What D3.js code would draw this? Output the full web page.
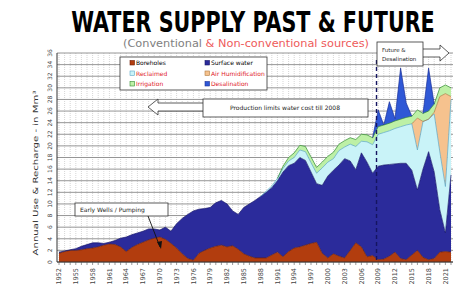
<!DOCTYPE html>
<html>
<head>
<meta charset="utf-8">
<script src="https://cdn.jsdelivr.net/npm/d3@7"></script>
<style>
  body { margin: 0; background: #fff; }
  svg { display: block; font-family: "DejaVu Sans", sans-serif; }
</style>
</head>
<body>
<svg id="chart" width="461" height="295"></svg>
<script>
// years on the x axis, one value per year
var years = d3.range(1952, 2023);
var tickYears = d3.range(1952, 2023, 3);
var yTicks = d3.range(0, 37, 2);

// stacked series (bottom to top)
var boreholes = [1.5, 1.8, 2.0, 2.0, 2.1, 2.3, 2.4, 2.6, 2.9, 3.1,
  3.0, 2.6, 1.8, 2.5, 3.0, 3.4, 3.8, 4.1, 4.3, 3.9,
  3.2, 2.4, 1.4, 0.6, 0.3, 1.5, 2.0, 2.4, 2.7, 2.9,
  2.6, 2.8, 2.2, 1.4, 1.0, 0.7, 0.7, 0.7, 1.2, 1.7,
  0.9, 1.8, 2.4, 2.6, 2.9, 3.2, 3.4, 1.5, 0.7, 1.4,
  1.0, 0.7, 2.0, 3.3, 2.6, 0.9, 1.1, 0.4, 0.5, 1.0,
  1.7, 0.6, 0.4, 1.2, 2.0, 0.8, 0.4, 0.6, 1.7, 1.8, 1.7];
var surfaceWater = [0.2, 0.1, 0.1, 0.3, 0.6, 0.7, 0.9, 0.7, 0.3, 0.3,
  0.7, 1.5, 2.5, 2.2, 2.0, 1.9, 1.9, 1.6, 1.2, 2.1,
  2.1, 4.2, 6.1, 7.6, 8.5, 7.6, 7.2, 7.0, 7.5, 7.7,
  7.4, 6.0, 6.0, 8.0, 9.0, 9.9, 10.6, 11.3, 11.6, 12.3,
  14.6, 14.8, 14.6, 15.4, 14.6, 12.3, 10.1, 11.7, 14.1, 14.4,
  15.7, 17.1, 15.4, 12.6, 16.2, 16.3, 14.2, 16.1, 16.2, 15.8,
  15.2, 16.4, 16.6, 14.6, 10.4, 15.2, 18.6, 14.9, 7.3, 3.2, 13.3];
var reclaimed = [0, 0, 0, 0, 0, 0, 0, 0, 0, 0,
  0, 0, 0, 0, 0, 0, 0, 0, 0, 0,
  0, 0, 0, 0, 0, 0, 0, 0, 0, 0,
  0, 0, 0, 0, 0, 0, 0, 0.2, 0.3, 0.4,
  0.6, 0.8, 1.0, 1.3, 1.5, 1.6, 1.8, 3.0, 2.4, 2.0,
  2.5, 2.0, 2.9, 4.0, 2.0, 3.5, 4.9, 5.5, 5.6, 5.8,
  6.1, 6.3, 6.6, 8.0, 6.9, 8.2, 5.6, 10.0, 10.0, 8.0, 13.0];
var airHumid = [0, 0, 0, 0, 0, 0, 0, 0, 0, 0,
  0, 0, 0, 0, 0, 0, 0, 0, 0, 0,
  0, 0, 0, 0, 0, 0, 0, 0, 0, 0,
  0, 0, 0, 0, 0, 0, 0, 0, 0, 0,
  0, 0, 0, 0, 0, 0, 0, 0, 0, 0,
  0, 0, 0, 0, 0, 0, 0, 0, 0, 0,
  0, 0, 0, 0, 5.5, 0, 0, 0.3, 9.5, 16.0, 0.5];
var irrigation = [0, 0, 0, 0, 0, 0, 0, 0, 0, 0,
  0, 0, 0, 0, 0, 0, 0, 0, 0, 0,
  0, 0, 0, 0, 0, 0, 0, 0, 0, 0,
  0, 0, 0, 0, 0, 0, 0, 0, 0, 0,
  0.4, 0.6, 0.8, 0.8, 0.9, 1.0, 1.0, 1.0, 1.0, 1.1,
  1.1, 1.1, 1.1, 1.2, 1.2, 1.2, 1.2, 1.3, 1.3, 1.3,
  1.3, 1.3, 1.3, 1.3, 1.4, 1.4, 1.4, 1.4, 1.5, 1.5, 1.5];
var desalination = [0, 0, 0, 0, 0, 0, 0, 0, 0, 0,
  0, 0, 0, 0, 0, 0, 0, 0, 0, 0,
  0, 0, 0, 0, 0, 0, 0, 0, 0, 0,
  0, 0, 0, 0, 0, 0, 0, 0, 0, 0,
  0, 0, 0, 0, 0, 0, 0, 0, 0, 0,
  0, 0, 0, 0, 0, 0, 0, 2.9, 0, 3.7,
  0.4, 8.8, 2.5, 0, 0, 0, 7.4, 0, 0, 0, 0];

var seriesNames = ['Boreholes', 'Surface water', 'Reclaimed', 'Air Humidification', 'Irrigation', 'Desalination'];
var seriesValues = [boreholes, surfaceWater, reclaimed, airHumid, irrigation, desalination];
var fills = ['#b23d0e', '#2b2b9b', '#c9f3f8', '#f6c28e', '#bdf0a6', '#2f58d6'];
var edges = ['#6e1d04', '#16166a', '#5aa7c8', '#b07a40', '#2f8a2f', '#1a2f9a'];
var legendText = ['#000', '#000', '#e0202a', '#e0202a', '#e0202a', '#e0202a'];
var dividerYear = 2008.7;

var svg = d3.select('#chart');
var x = d3.scaleLinear().domain([1952, 2022]).range([59, 451]);
var y = d3.scaleLinear().domain([0, 36]).range([262, 53]);

// title (condensed face, stretched a little vertically)
svg.append('text')
  .attr('transform', 'translate(253,32) scale(1,1.22)')
  .attr('text-anchor', 'middle')
  .attr('font-family', '"DejaVu Sans Condensed", "DejaVu Sans", sans-serif')
  .attr('font-size', 23).attr('font-weight', 'bold')
  .text('WATER SUPPLY PAST & FUTURE');

var sub = svg.append('text')
  .attr('x', 246).attr('y', 47)
  .attr('text-anchor', 'middle')
  .attr('font-size', 10)
  .attr('textLength', 246).attr('lengthAdjust', 'spacingAndGlyphs');
sub.append('tspan').attr('fill', '#808080').text('(Conventional ');
sub.append('tspan').attr('fill', '#ee5a5a').text('& Non-conventional sources)');

// grid
var g = svg.append('g');
g.append('rect')
  .attr('x', 57).attr('y', y(36))
  .attr('width', 396).attr('height', y(0) - y(36))
  .attr('fill', '#fff');

g.selectAll('.vgrid').data(years).enter().append('line')
  .attr('x1', function (d) { return x(d); })
  .attr('x2', function (d) { return x(d); })
  .attr('y1', y(36)).attr('y2', y(0))
  .attr('stroke', '#bbb').attr('stroke-width', 0.6)
  .attr('stroke-dasharray', '1,1');

g.selectAll('.hgrid').data(yTicks).enter().append('line')
  .attr('x1', 57).attr('x2', 453)
  .attr('y1', function (d) { return y(d); })
  .attr('y2', function (d) { return y(d); })
  .attr('stroke', '#8a8a8a').attr('stroke-width', 0.9);

// stacked areas
var rows = years.map(function (yr, i) {
  var r = { year: yr };
  seriesNames.forEach(function (n, k) { r[n] = seriesValues[k][i]; });
  return r;
});
var stack = d3.stack().keys(seriesNames)(rows);

var area = d3.area()
  .x(function (d) { return x(d.data.year); })
  .y0(function (d) { return y(d[0]); })
  .y1(function (d) { return y(d[1]); });

g.selectAll('.layer').data(stack).enter().append('path')
  .attr('d', area)
  .attr('fill', function (d, i) { return fills[i]; });

// top edge of each layer, only where the layer is present
stack.forEach(function (layer, k) {
  var vals = seriesValues[k];
  var edge = d3.line()
    .defined(function (d, i) {
      return vals[i] > 0 || (i > 0 && vals[i - 1] > 0) || (i < vals.length - 1 && vals[i + 1] > 0);
    })
    .x(function (d) { return x(d.data.year); })
    .y(function (d) { return y(d[1]); });
  g.append('path')
    .attr('d', edge(layer))
    .attr('fill', 'none')
    .attr('stroke', edges[k])
    .attr('stroke-width', 0.7);
});

// present / future divider
g.append('line')
  .attr('x1', x(dividerYear)).attr('x2', x(dividerYear))
  .attr('y1', 60).attr('y2', y(0))
  .attr('stroke', '#151560').attr('stroke-width', 1.4)
  .attr('stroke-dasharray', '4,3');

// axes
g.append('line').attr('x1', 57).attr('x2', 57).attr('y1', y(36)).attr('y2', y(0))
  .attr('stroke', '#333').attr('stroke-width', 1);
g.append('line').attr('x1', 57).attr('x2', 453).attr('y1', y(0)).attr('y2', y(0))
  .attr('stroke', '#333').attr('stroke-width', 1);
g.selectAll('.xtick').data(years).enter().append('line')
  .attr('x1', function (d) { return x(d); })
  .attr('x2', function (d) { return x(d); })
  .attr('y1', y(0)).attr('y2', y(0) + 3)
  .attr('stroke', '#555').attr('stroke-width', 0.6);

g.selectAll('.xlab').data(tickYears).enter().append('text')
  .attr('transform', function (d) { return 'translate(' + x(d) + ',' + (y(0) + 6) + ') rotate(-90)'; })
  .attr('text-anchor', 'end')
  .attr('dy', '0.35em')
  .attr('font-size', 6.5).attr('fill', '#444')
  .text(function (d) { return d; });

g.selectAll('.ylab').data(yTicks).enter().append('text')
  .attr('transform', function (d) { return 'translate(50,' + y(d) + ') rotate(-90)'; })
  .attr('text-anchor', 'middle')
  .attr('dy', '0.35em')
  .attr('font-size', 6).attr('fill', '#444')
  .text(function (d) { return d; });

svg.append('text')
  .attr('transform', 'translate(36,173) rotate(-90)')
  .attr('text-anchor', 'middle')
  .attr('dy', '0.35em')
  .attr('font-size', 7).attr('fill', '#333')
  .attr('textLength', 165).attr('lengthAdjust', 'spacingAndGlyphs')
  .text('Annual Use & Recharge - in Mm\u00b3');

// legend
var legend = svg.append('g');
legend.append('rect')
  .attr('x', 120).attr('y', 57).attr('width', 147).attr('height', 33)
  .attr('fill', '#fff').attr('stroke', '#333').attr('stroke-width', 0.8);
seriesNames.forEach(function (n, k) {
  var col = k % 2, row = Math.floor(k / 2);
  var lx = col === 0 ? 130 : 205, ly = 63 + row * 10.5;
  legend.append('rect')
    .attr('x', lx).attr('y', ly - 2.5).attr('width', 4.5).attr('height', 4.5)
    .attr('fill', fills[k]).attr('stroke', edges[k]).attr('stroke-width', 0.6);
  legend.append('text')
    .attr('x', lx + 6).attr('y', ly).attr('dy', '0.35em')
    .attr('font-size', 6).attr('fill', legendText[k])
    .text(n);
});

// annotation: production limits
svg.append('path')
  .attr('d', 'M148,107 L158,99 L158,103 L204,103 L204,111 L158,111 L158,115 Z')
  .attr('fill', '#fff').attr('stroke', '#333').attr('stroke-width', 0.8);
svg.append('rect')
  .attr('x', 203).attr('y', 99).attr('width', 165).attr('height', 18)
  .attr('fill', '#fff').attr('stroke', '#333').attr('stroke-width', 0.8);
svg.append('text')
  .attr('x', 285).attr('y', 108).attr('dy', '0.35em')
  .attr('text-anchor', 'middle').attr('font-size', 6).attr('fill', '#222')
  .text('Production limits  water cost till 2008');

// annotation: early wells
svg.append('rect')
  .attr('x', 75).attr('y', 203).attr('width', 93).attr('height', 13)
  .attr('fill', '#fff').attr('stroke', '#333').attr('stroke-width', 0.8);
svg.append('text')
  .attr('x', 80).attr('y', 209.5).attr('dy', '0.35em')
  .attr('font-size', 6).attr('fill', '#222')
  .text('Early Wells / Pumping');
svg.append('line')
  .attr('x1', 148).attr('y1', 216).attr('x2', 160).attr('y2', 247)
  .attr('stroke', '#111').attr('stroke-width', 0.9);
svg.append('path')
  .attr('d', 'M161,249 L157,242 L162,241 Z').attr('fill', '#111');

// annotation: future
svg.append('path')
  .attr('d', 'M422,49 L440,49 L440,45 L449,53 L440,61 L440,57 L422,57 Z')
  .attr('fill', '#fff').attr('stroke', '#333').attr('stroke-width', 0.8);
svg.append('rect')
  .attr('x', 377).attr('y', 42).attr('width', 46).attr('height', 24)
  .attr('fill', '#fff').attr('stroke', '#333').attr('stroke-width', 0.8);
svg.append('text')
  .attr('x', 382).attr('y', 50).attr('dy', '0.35em')
  .attr('font-size', 5.5).attr('fill', '#222')
  .text('Future &');
svg.append('text')
  .attr('x', 382).attr('y', 59).attr('dy', '0.35em')
  .attr('font-size', 5.5).attr('fill', '#222')
  .text('Desalination');
</script>
</body>
</html>
